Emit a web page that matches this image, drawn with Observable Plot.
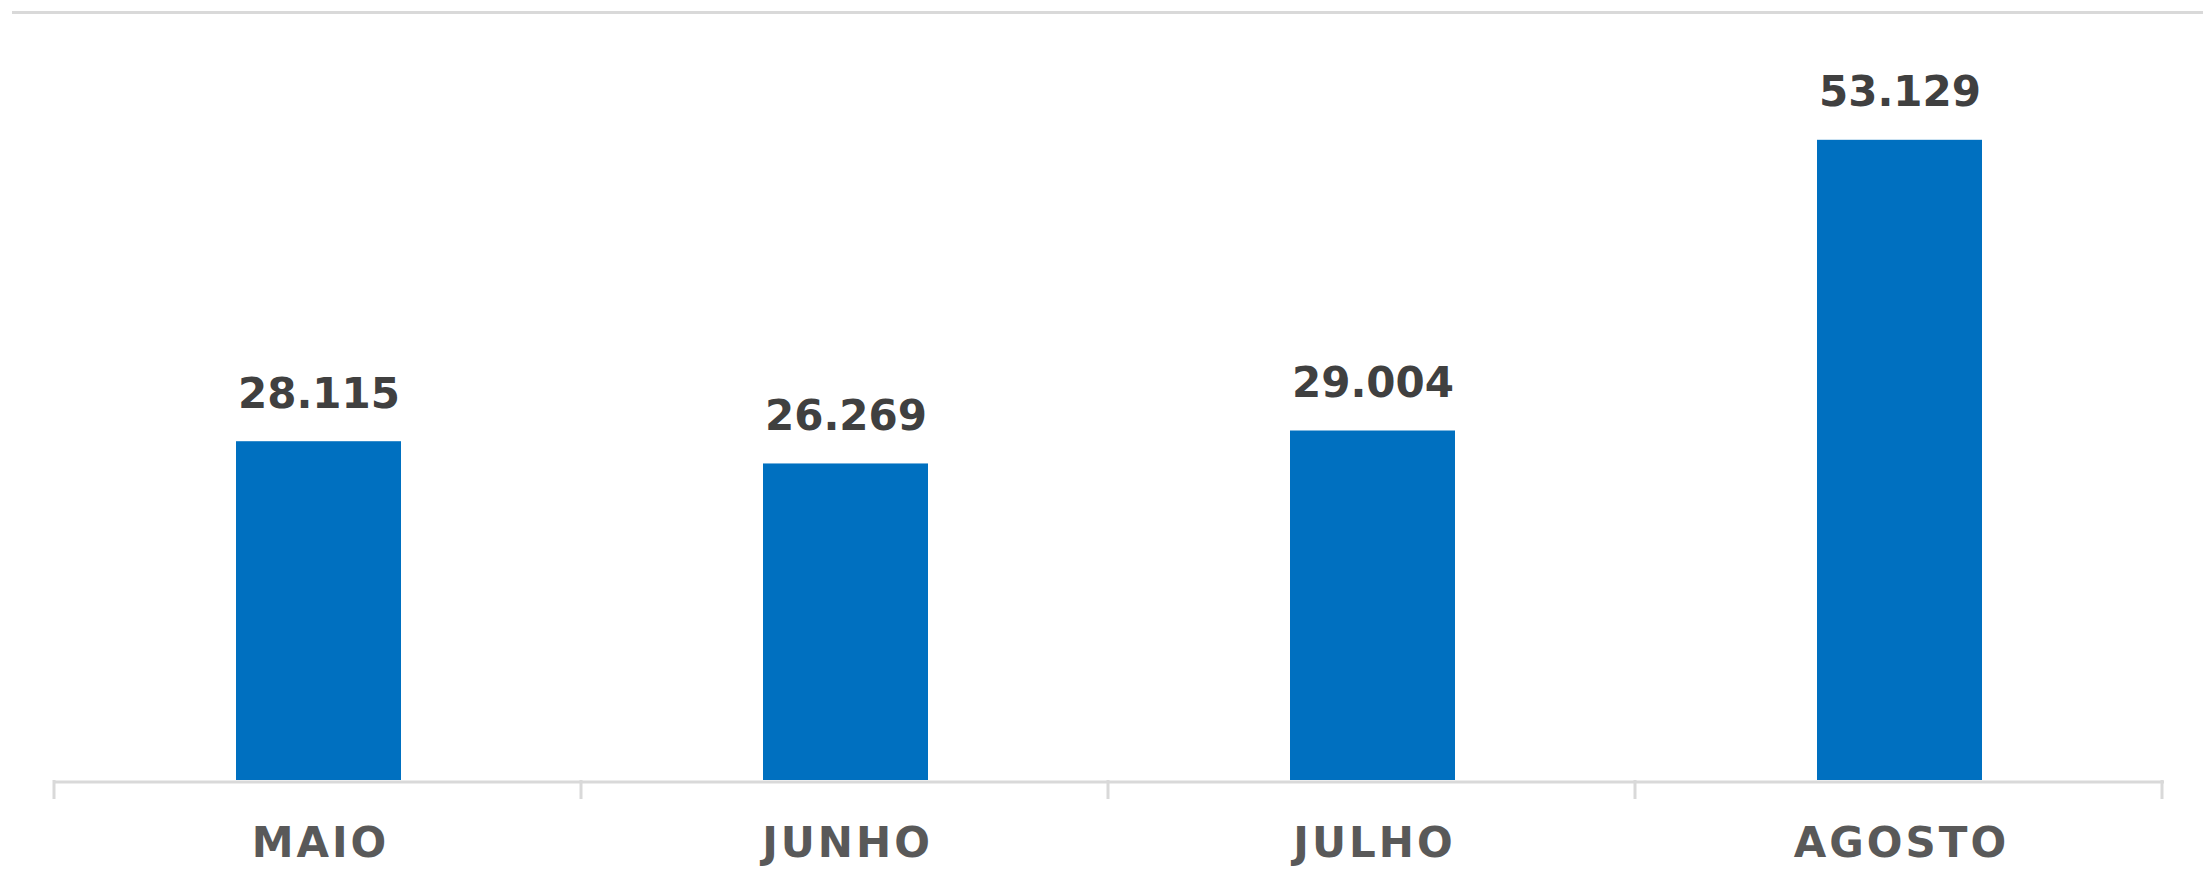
<!DOCTYPE html>
<html><head><meta charset="utf-8">
<script src="https://cdn.jsdelivr.net/npm/d3@7"></script>
<script src="https://cdn.jsdelivr.net/npm/@observablehq/plot@0.6"></script>
<style>
body{margin:0;background:#fff;}
#wrap{position:relative;width:2203px;height:893px;overflow:hidden;}
#topline{position:absolute;left:12px;right:0;top:11px;height:3px;background:#d9d9d9;}
g[aria-label="x-axis tick label"] text{letter-spacing:3px;}
</style></head><body><div id="wrap"><div id="topline"></div></div>
<script>
const months = ["MAIO", "JUNHO", "JULHO", "AGOSTO"];
const values = [28115, 26269, 29004, 53129];
const valueLabels = ["28.115", "26.269", "29.004", "53.129"];
const data = months.map((m, i) => ({month: m, value: values[i], label: valueLabels[i]}));

function boundaryTicks(index, scales, vals, dims) {
  const x = scales.x;
  const step = x(months[1]) - x(months[0]);
  const offset = x(months[0]) - dims.marginLeft;
  const xs = months.map(m => x(m) - offset).concat([x(months[months.length - 1]) - offset + step]);
  const y0 = dims.height - dims.marginBottom;
  const g = d3.create("svg:g");
  g.selectAll("line").data(xs).join("line")
    .attr("x1", d => d).attr("x2", d => d)
    .attr("y1", y0).attr("y2", y0 + 19)
    .attr("stroke", "#d9d9d9").attr("stroke-width", 3);
  return g.node();
}

const chart = Plot.plot({
  width: 2203,
  height: 893,
  marginTop: 57,
  marginBottom: 113,
  marginLeft: 54,
  marginRight: 39,
  style: {fontFamily: "DejaVu Sans", background: "transparent"},
  x: {domain: months, paddingInner: 0.687, paddingOuter: 0.3435, axis: null, label: null},
  y: {domain: [0, 60000], axis: null},
  marks: [
    Plot.barY(data, {x: "month", y: "value", fill: "#0070C0"}),
    Plot.ruleY([0], {stroke: "#d9d9d9", strokeWidth: 3, dy: 1.5}),
    boundaryTicks,
    Plot.text(data, {x: "month", y: "value", text: "label", lineAnchor: "bottom", dy: -34,
      fontSize: 42, fontWeight: "bold", fill: "#404040"}),
    Plot.axisX({tickSize: 0, tickPadding: 47, fontSize: 42, fontWeight: "bold", fill: "#595959", dx: 1.5, label: null})
  ]
});
chart.style.position = "absolute";
chart.style.left = "0";
chart.style.top = "0";
document.getElementById("wrap").appendChild(chart);
</script>
</body></html>
